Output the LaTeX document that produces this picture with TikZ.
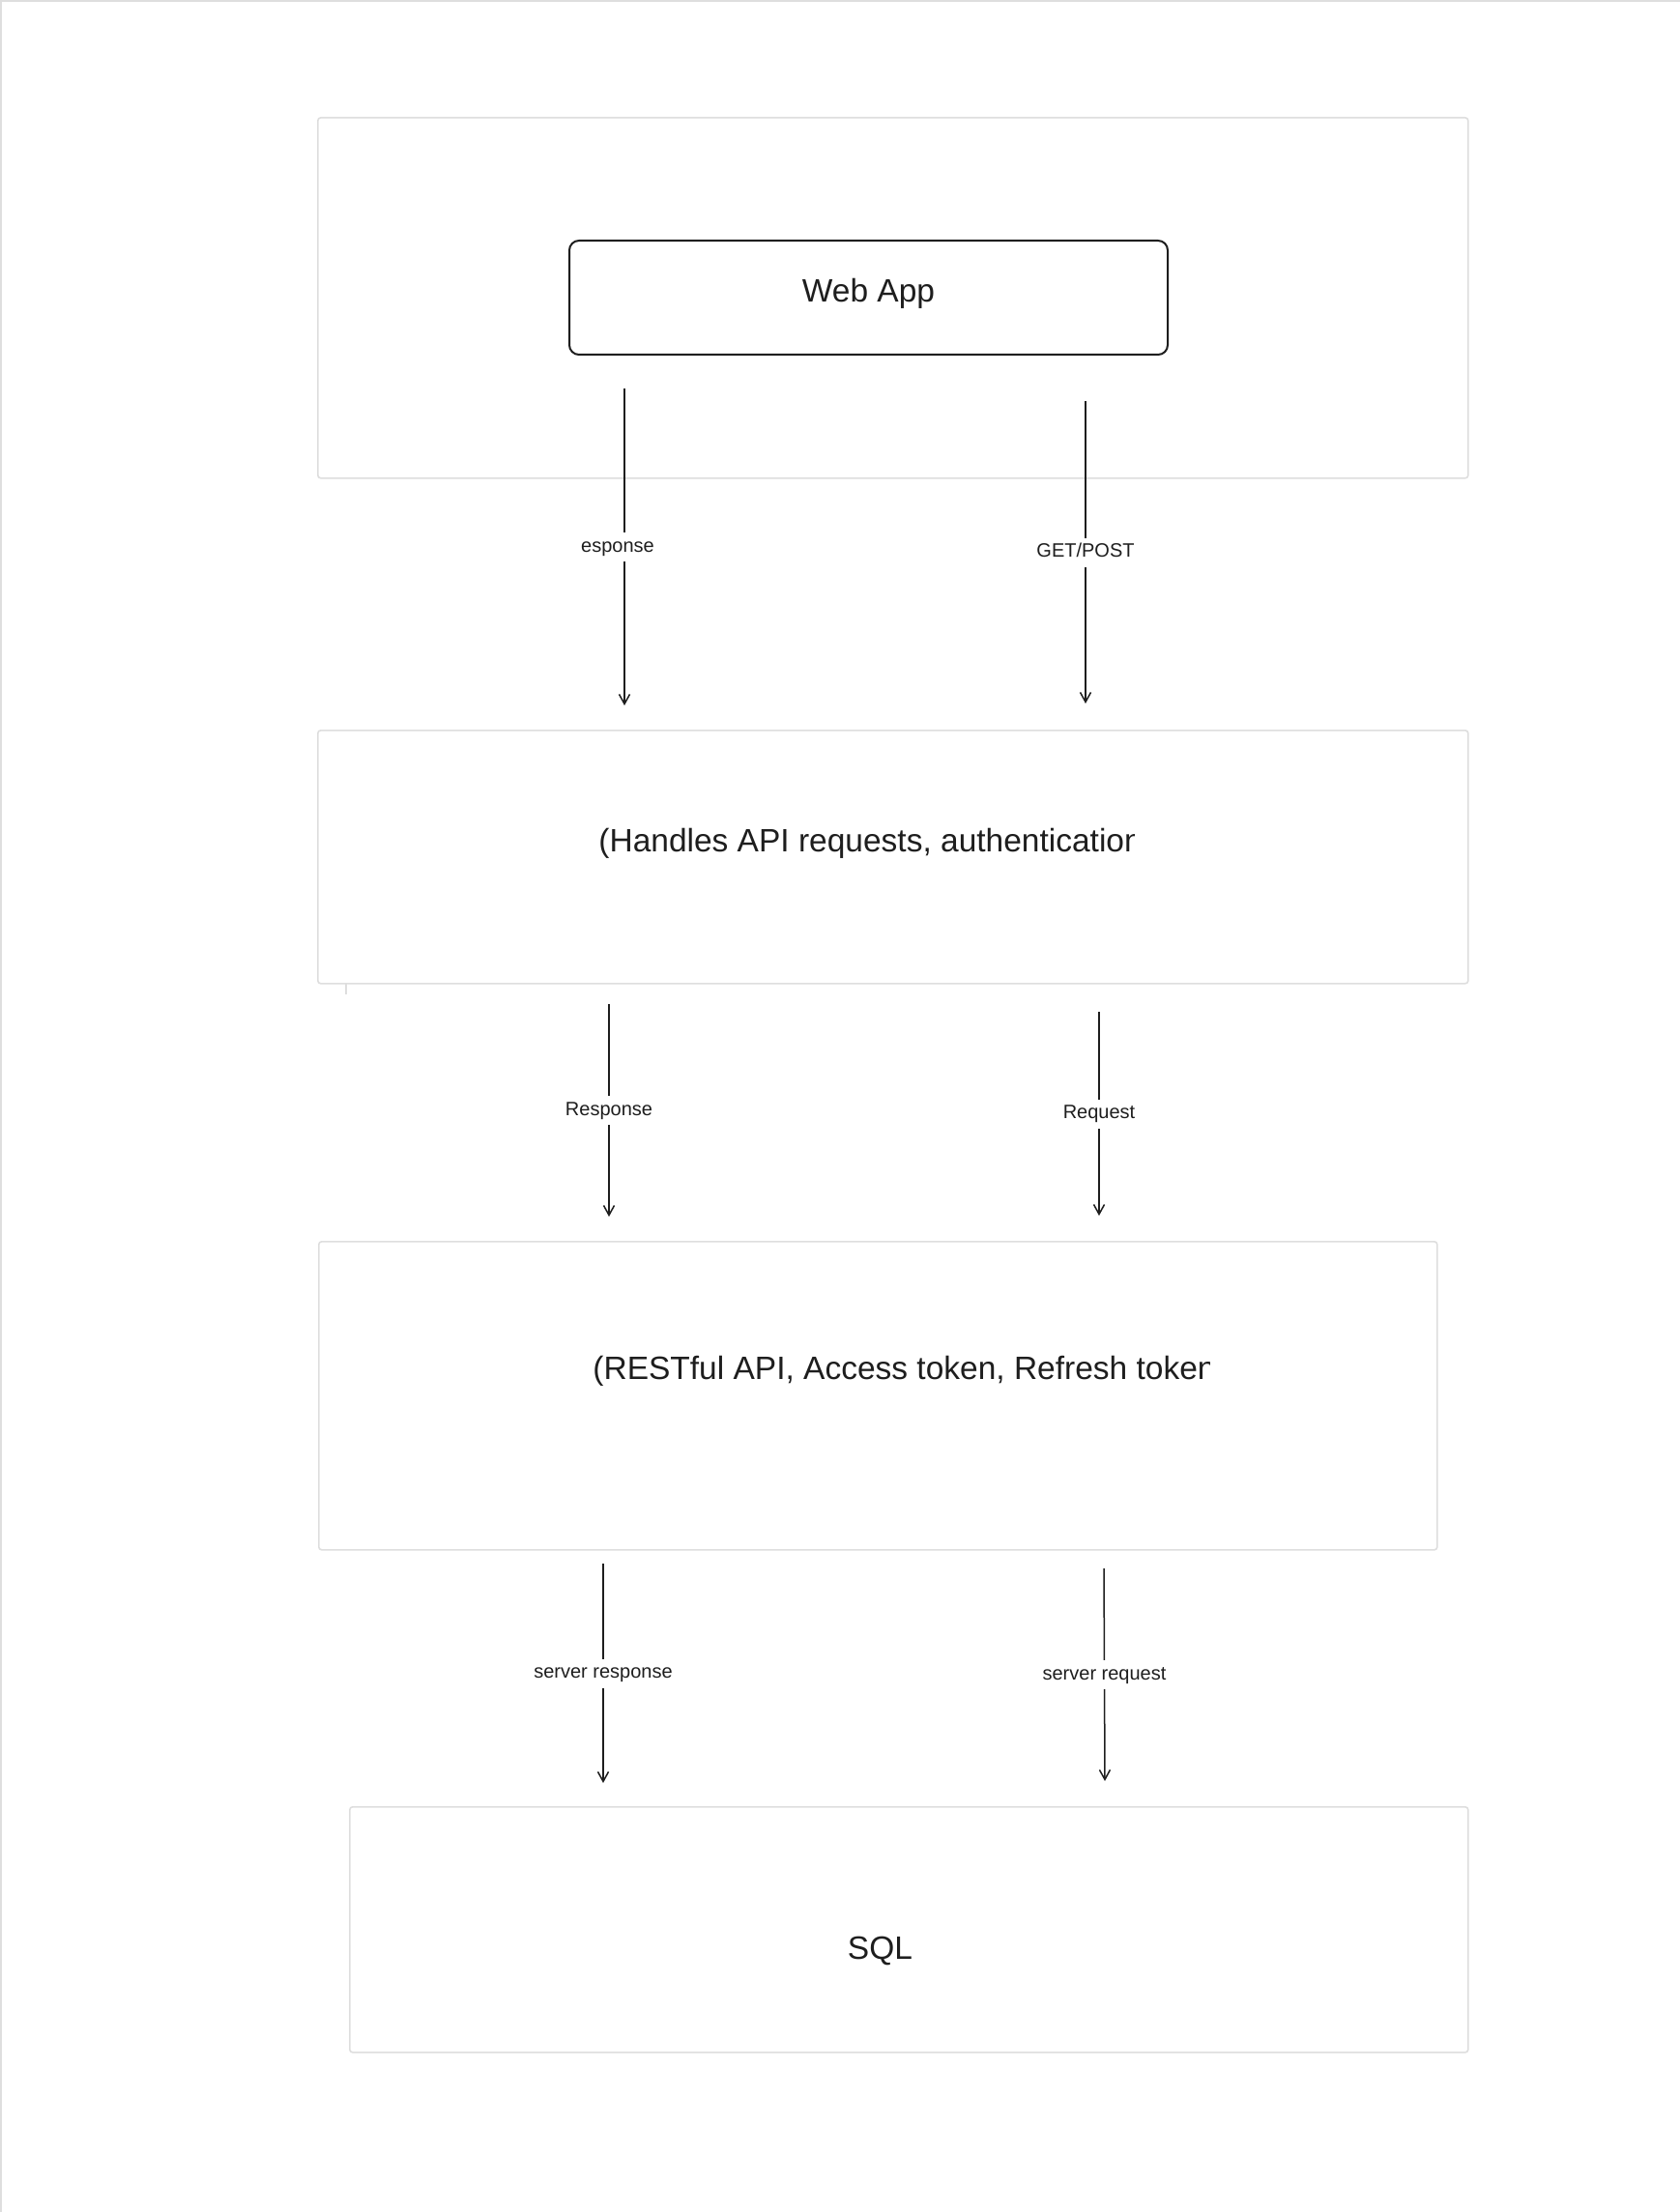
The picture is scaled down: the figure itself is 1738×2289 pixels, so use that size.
\documentclass[tikz,border=0pt]{standalone}
\usepackage{fontspec}
\setmainfont{Liberation Sans}
\usetikzlibrary{arrows.meta}
\definecolor{boxgray}{RGB}{222,222,222}
\definecolor{ink}{RGB}{30,30,30}
\begin{document}
\begin{tikzpicture}[x=0.5pt,y=-0.5pt,
  frame/.style={draw=boxgray,line width=0.8pt,rounded corners=1.5pt,inner sep=0pt,anchor=north west},
  appbox/.style={draw=ink,line width=1pt,rounded corners=5pt,inner sep=0pt},
  arr/.style={draw=ink,line width=0.75pt,-{Straight Barb[length=5pt,width=5.5pt]}},
  lbl/.style={fill=white,text=ink,font=\fontsize{10}{12}\selectfont,inner sep=2.5pt,text height=7.5pt,text depth=2.5pt},
  big/.style={text=ink,font=\fontsize{16.75}{20}\selectfont,inner sep=0pt}]
\useasboundingbox (0,0) rectangle (1738,2289);
\fill[white] (0,0) rectangle (1738,2289);
\draw[boxgray,line width=0.8pt] (1,2289) -- (1,1) -- (1738,1);

% layers
\node (layer1) [frame,minimum width=595pt,minimum height=186.5pt] at (328,121) {};
\node (webapp) [appbox,minimum width=309.5pt,minimum height=59pt] at (898.5,308) {};
\node (tweb) [big,anchor=base] at (898.5,313) {Web App};

\node (layer2) [frame,minimum width=595pt,minimum height=131pt] at (328,755) {};
\begin{scope}
\clip (330,757) rectangle (1173,1015);
\node (t2) [big,anchor=base west] at (619,881) {(Handles API requests, authentication};
\end{scope}
\draw[boxgray,line width=0.6pt] (358,1017) -- (358,1029);

\node (layer3) [frame,minimum width=578.5pt,minimum height=159.5pt] at (329,1284) {};
\begin{scope}
\clip (331,1286) rectangle (1251,1601);
\node (t3) [big,anchor=base west] at (613,1427) {(RESTful API, Access token, Refresh token};
\end{scope}

\node (layer4) [frame,minimum width=578.5pt,minimum height=127pt] at (361,1869) {};
\node (t4) [big,anchor=base] at (910.5,2027) {SQL};

% connectors
\coordinate (a1s) at (646,402);  \coordinate (a1e) at (646,730);
\coordinate (a2s) at (1123,415); \coordinate (a2e) at (1123,728);
\coordinate (a3s) at (630,1039); \coordinate (a3e) at (630,1259);
\coordinate (a4s) at (1137,1047);\coordinate (a4e) at (1137,1258);
\coordinate (a5s) at (624,1618); \coordinate (a5e) at (624,1845);
\coordinate (a6s) at (1142,1623);\coordinate (a6e) at (1143,1843);

\draw[arr] (a1s) -- node[lbl,xshift=-3.5pt] (l1) {esponse} (a1e);
\draw[arr] (a2s) -- node[lbl] (l2) {GET/POST} (a2e);
\draw[arr] (a3s) -- node[lbl] (l3) {Response} (a3e);
\draw[arr] (a4s) -- node[lbl] (l4) {Request} (a4e);
\draw[arr] (a5s) -- node[lbl] (l5) {server response} (a5e);
\draw[arr] (a6s) -- node[lbl] (l6) {server request} (a6e);
\end{tikzpicture}
\end{document}
